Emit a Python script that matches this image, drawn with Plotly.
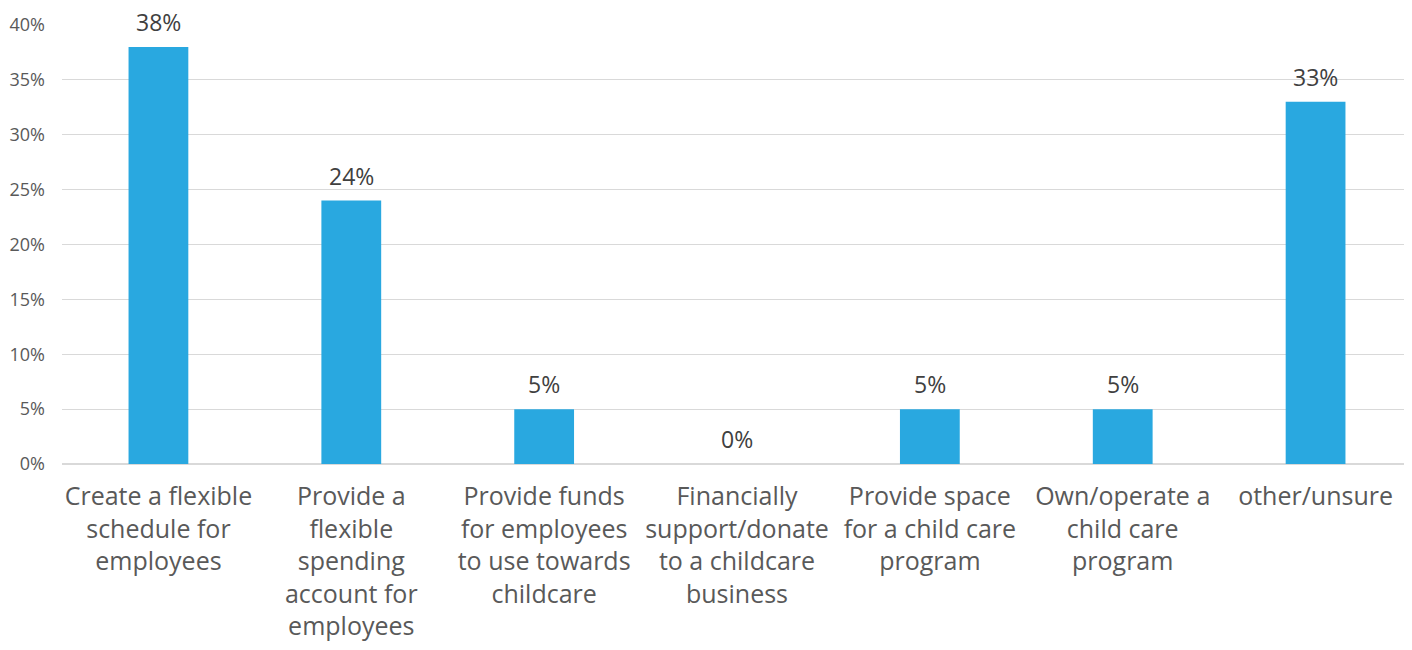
import plotly.graph_objects as go

categories = [
    "Create a flexible<br>schedule for<br>employees",
    "Provide a<br>flexible<br>spending<br>account for<br>employees",
    "Provide funds<br>for employees<br>to use towards<br>childcare",
    "Financially<br>support/donate<br>to a childcare<br>business",
    "Provide space<br>for a child care<br>program",
    "Own/operate a<br>child care<br>program",
    "other/unsure",
]
values = [0.38, 0.24, 0.05, 0.00, 0.05, 0.05, 0.33]
y_ticks = [0, 0.05, 0.10, 0.15, 0.20, 0.25, 0.30, 0.35, 0.40]

font_family = "Open Sans, Lato, sans-serif"

fig = go.Figure(
    go.Bar(
        x=categories,
        y=values,
        marker=dict(color="#29A8E0", line=dict(width=0)),
        hoverinfo="x+y",
    )
)

for cat, val in zip(categories, values):
    fig.add_annotation(
        x=cat,
        y=val,
        text=f"{val:.0%}",
        showarrow=False,
        yanchor="bottom",
        yshift=8,
        borderpad=0,
        font=dict(size=23, color="#404040", family=font_family),
    )

# The page body has an 8px default margin, so the figure is sized to fit.
fig.update_layout(
    width=1404,
    height=642,
    margin=dict(l=54, r=0, t=17, b=186),
    plot_bgcolor="white",
    paper_bgcolor="white",
    bargap=0.69,
    showlegend=False,
    font=dict(family=font_family),
)
fig.update_xaxes(
    tickfont=dict(size=25, color="#595959", family=font_family),
    showline=False,
    ticks="",
    tickangle=0,
    automargin=False,
    ticklabelstandoff=15,
)
fig.update_yaxes(
    range=[0, 0.4],
    tickvals=y_ticks,
    tickformat=".0%",
    tickfont=dict(size=18, color="#595959", family=font_family),
    gridcolor="#D9D9D9",
    gridwidth=1,
    zeroline=True,
    zerolinecolor="#D9D9D9",
    zerolinewidth=2,
    ticks="",
    ticklabelstandoff=16,
    automargin=False,
)

fig.write_html("out.html")
